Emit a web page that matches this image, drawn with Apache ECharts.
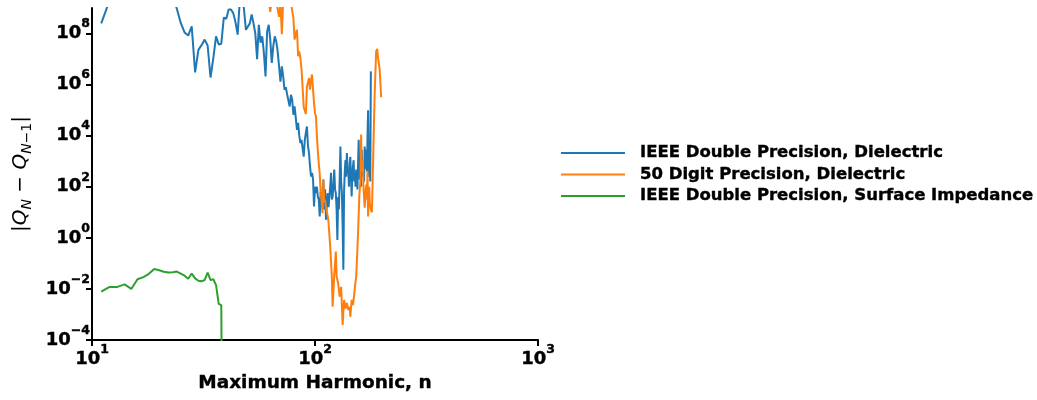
<!DOCTYPE html>
<html><head><meta charset="utf-8">
<script src="https://cdn.jsdelivr.net/npm/echarts@6/dist/echarts.min.js"></script>
<style>html,body{margin:0;padding:0;background:#fff}#c{width:1037px;height:400px}</style>
</head><body><div id="c"></div>
<script>
// ---- data (x = maximum harmonic n, y = |Q_N - Q_{N-1}|) ----
const seriesNames = ['IEEE Double Precision, Dielectric', '50 Digit Precision, Dielectric', 'IEEE Double Precision, Surface Impedance'];
const xTicks = [10, 100, 1000];
const yTicks = [1e-4, 1e-2, 1, 1e2, 1e4, 1e6, 1e8];

const blueStartN = 11;
const blueV = [2.5e8, 2e9, 4e9, 6e9, 8e9, 1e10, 8e9, 1e10, 6e9, 5e9, 6e9, 5e9, 3e9,
  9.5e8, 2.6e8, 1.1e8, 8.3e7, 1.9e8, 3e6, 2.3e7, 3.5e7, 5.8e7, 3.4e7,
  1.9e6, 1.1e7, 7.8e7, 3.7e7, 4e7, 4.2e8, 3.8e8, 8.7e8, 8.7e8, 6.3e8,
  2.8e8, 9.1e7, 2e9, 3e9, 9.5e8, 1.4e8, 1.3e8, 2.5e8, 5.6e8, 2.5e8,
  1e8, 1e7, 2.2e8, 4.4e7, 7.8e7, 1.7e7, 2.1e6, 1.2e8, 2.2e8, 5.8e7,
  7.1e6, 3.2e7, 7.8e7, 5e7, 2e7, 5.2e6, 1.3e6, 5.2e6, 2.1e6, 6.3e5,
  7.9e5, 4.1e5, 4.7e5, 1.4e5, 4e5, 2.6e5, 6.6e4, 1.4e5, 5e4, 1.7e4,
  3.2e4, 1e4, 5.1e3, 6.9e3, 3.2e3, 1.5e3, 6.9e3, 1.3e4, 2.3e4, 4e3,
  2.1e3, 630, 250, 350, 200, 17, 100, 56, 100, 40,
  31, 6.9, 63, 23, 56, 190, 13, 79, 5.1, 25,
  56, 16, 17, 100, 350, 32, 42, 130, 470, 79,
  56, 13, 0.83, 40, 13, 200, 3800, 160, 56, 3.2,
  0.056, 63, 400, 1100, 250, 2100, 320, 470, 100, 790,
  1500, 250, 42, 320, 630, 1100, 160, 350, 100, 470,
  200, 79, 850, 6900, 320, 190, 630, 100, 2800, 400,
  250, 1000, 160, 3800, 500, 1600, 2800, 400, 1e4, 1e5,
  2000, 250, 1000, 160, 3.3e6];

const orangeN = [60,61,62,63,64,65,66,67,68,69,70,71,72,73,75,77,78,79,80,
  81,82,83,84,85,86,87,88,89,90,91,92,93,94,95,96,97,98,99,100,101,102,103,104,105,106,107,108,109,110,111,112,
  114,115,117,119,120,122,124,125,127,129,131,133,135,137,139,141,143,144,146,148,150,151,153,155,156,
  158,160,161,162,164,165,167,169,170,171,172,173,175,176,178,180,182,185,188,190,192,195,198];
const orangeV = [4e9,3e9,2e9,7.1e8,2.5e9,4e9,3e9,1.6e9,9.1e8,4.5e8,1.6e9,9.5e7,2e9,3e9,4e9,2.5e9,1.6e9,7.9e8,4e8,
  5.8e7,1e8,1.4e8,1.3e7,2e7,1.1e7,4e6,7.9e5,1.3e5,1.1e5,7.1e4,8.5e5,1.2e6,1.8e6,6.3e5,1.6e6,2.5e6,6.3e5,1.9e5,7.8e4,5.8e4,9.3e3,2.5e3,790,320,63,32,9.3,190,25,31,16,
  6.9,4,0.46,0.03,0.002,0.035,0.29,0.03,0.017,0.005,0.012,3.9e-4,3.7e-3,1.7e-3,2.8e-3,1.5e-3,2e-3,8.1e-4,3.7e-3,2.3e-3,6.3e-3,0.012,0.03,0.4,1.6,
  42,200,1.1e4,400,1100,100,15,79,120,32,400,6.9,100,25,13,10,630,3.2e5,2e7,2.5e7,1e7,4e6,3.2e5];

const greenN = [11,12,13,14,15,16,17,18,19,20,21,22,23,24,25,26,27,28,29,30,31,32,33,34,35,36,37,38,39];
const greenV = [7.9e-3,0.012,0.012,0.015,0.01,0.024,0.029,0.039,0.06,0.054,0.047,0.044,0.045,0.048,0.04,0.033,0.025,0.04,0.026,0.021,0.02,0.022,0.044,0.022,0.024,0.014,2.6e-3,2.3e-3,1e-17];

const colors = ['#1f77b4', '#ff7f0e', '#2ca02c'];

// ---- build ----
const blueData = blueV.map((v, i) => [blueStartN + i, v]);
const orangeData = orangeN.map((n, i) => [n, orangeV[i]]);
const greenData = greenN.map((n, i) => [n, greenV[i]]);

const FONT = '"DejaVu Sans", sans-serif';
const HEAVY = {textBorderColor: '#000', textBorderWidth: 0.4};
function powLabel(v) {
  const e = Math.round(Math.log10(v));
  return '{b|10}{s|' + (e < 0 ? '\u2212' + (-e) : e) + '}';
}
const rich = {
  b: Object.assign({fontFamily: FONT, fontWeight: 'bold', fontSize: 18, lineHeight: 32, color: '#000'}, HEAVY),
  s: Object.assign({fontFamily: FONT, fontWeight: 'bold', fontSize: 12.5, lineHeight: 12, verticalAlign: 'top', color: '#000'}, HEAVY)
};
const axisLine = {show: true, lineStyle: {color: '#000', width: 2}};

const chart = echarts.init(document.getElementById('c'), null, {renderer: 'canvas'});
chart.setOption({
  animation: false,
  backgroundColor: '#fff',
  color: colors,
  grid: {left: 92, right: 499, top: 8, bottom: 60, containLabel: false, outerBoundsMode: 'none'},
  xAxis: {
    type: 'log', logBase: 10, min: 10, max: 1000, interval: 1,
    axisLine: axisLine,
    axisTick: {show: true, length: 6, lineStyle: {color: '#000', width: 2}, customValues: xTicks},
    axisLabel: {customValues: xTicks, formatter: powLabel, rich: rich, margin: 3},
    splitLine: {show: false}, minorTick: {show: false},
    name: 'Maximum Harmonic, n', nameLocation: 'middle', nameGap: 34,
    nameTextStyle: Object.assign({fontFamily: FONT, fontWeight: 'bold', fontSize: 18.5, color: '#000'}, HEAVY)
  },
  yAxis: {
    type: 'log', logBase: 10, min: 1e-4, max: 1e9, interval: 2,
    axisLine: axisLine,
    axisTick: {show: true, length: 6, lineStyle: {color: '#000', width: 2}, customValues: yTicks},
    axisLabel: {customValues: yTicks, formatter: powLabel, rich: rich, margin: 2},
    splitLine: {show: false}, minorTick: {show: false},
    name: '|{i|Q}{is|N} \u2212 {i|Q}{is|N}{s2|\u22121}|', nameLocation: 'middle', nameGap: 58, nameRotate: 90,
    nameTextStyle: {
      fontFamily: FONT, fontSize: 20, color: '#000', lineHeight: 26,
      rich: {
        i: {fontFamily: FONT, fontStyle: 'italic', fontSize: 20, lineHeight: 26, color: '#000'},
        is: {fontFamily: FONT, fontStyle: 'italic', fontSize: 14, lineHeight: 13, verticalAlign: 'bottom', color: '#000'},
        s2: {fontFamily: FONT, fontSize: 14, lineHeight: 13, verticalAlign: 'bottom', color: '#000'}
      }
    }
  },
  legend: {
    orient: 'vertical', left: 561, top: 143, padding: 0, itemWidth: 64, itemHeight: 2, itemGap: 1.5, icon: 'rect',
    textStyle: Object.assign({fontFamily: FONT, fontWeight: 'bold', fontSize: 16.5, lineHeight: 20, color: '#000', padding: [0, 0, 0, 10]}, HEAVY),
    data: seriesNames
  },
  series: [
    {name: seriesNames[0], type: 'line', data: blueData, symbol: 'none', clip: true, lineStyle: {width: 2, color: colors[0]}, itemStyle: {color: colors[0]}},
    {name: seriesNames[1], type: 'line', data: orangeData, symbol: 'none', clip: true, lineStyle: {width: 2, color: colors[1]}, itemStyle: {color: colors[1]}},
    {name: seriesNames[2], type: 'line', data: greenData, symbol: 'none', clip: true, lineStyle: {width: 2, color: colors[2]}, itemStyle: {color: colors[2]}}
  ]
});
</script></body></html>
